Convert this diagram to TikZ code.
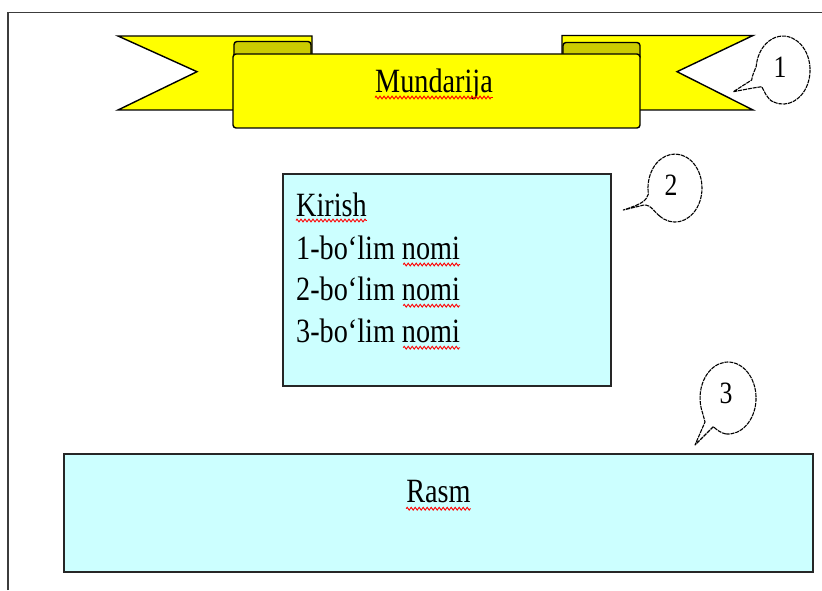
\documentclass[tikz,border=0pt]{standalone}
\usepackage{fontspec}
\setmainfont{Liberation Serif}
\newfontfamily\txtfont{Liberation Serif}[FakeStretch=0.83]
\usetikzlibrary{decorations.pathmorphing}
\definecolor{ribbonyellow}{RGB}{255,255,0}
\definecolor{folddark}{RGB}{204,204,0}
\definecolor{boxcyan}{RGB}{204,255,255}
\definecolor{framegray}{RGB}{60,60,60}
\begin{document}
\begin{tikzpicture}[x=1pt,y=1pt,
  ribbonpart/.style={draw=black, line width=1.4pt, fill=ribbonyellow, line join=miter},
  foldpart/.style={draw=black, line width=1.4pt, fill=folddark, rounded corners=3pt},
  infobox/.style={draw=black!85, line width=1.8pt, fill=boxcyan, inner sep=0pt},
  bubble/.style={draw=black, line width=1.1pt, dash pattern=on 4pt off 0.9pt, line join=round},
  bigtext/.style={font=\txtfont\fontsize{34}{40}\selectfont, inner sep=0pt},
  numtext/.style={font=\txtfont\fontsize{31}{36}\selectfont, inner sep=0pt},
  wavy/.style={draw=red, line width=0.9pt, decorate, decoration={zigzag, segment length=4pt, amplitude=1.4pt}},
]
\useasboundingbox (0,0) rectangle (822,590);
\fill[white] (0,0) rectangle (822,590);
% page frame
\draw[framegray, line width=1.5pt] (8,0) -- (8,577.5) -- (822,577.5);
% ribbon tails
\draw[ribbonpart] (118,554) -- (312,554) -- (312,480) -- (118,480) -- (197,518.3) -- cycle;
\draw[ribbonpart] (562,554.5) -- (753,554.5) -- (677,518.3) -- (753,480) -- (562,480) -- cycle;
% folds
\draw[foldpart] (234,530) rectangle (311,548.5);
\draw[foldpart] (563,530) rectangle (640,547.5);
% band
\draw[ribbonpart, rounded corners=3pt] (233,462) rectangle (640,536);
\node[bigtext, anchor=base] (title) at (434,497) {Mundarija};
\draw[wavy] ([yshift=-4.5pt]title.base west) -- ([yshift=-4.5pt]title.base east);
% box 2
\node[infobox, minimum width=328pt, minimum height=212pt, anchor=south west] (box2) at (282,203) {};
\node[bigtext, anchor=base west] (k0) at (296,373) {Kirish};
\node[bigtext, anchor=base west] (k1) at (296,330.5) {1-bo‘lim nomi};
\node[bigtext, anchor=base west] (k2) at (296,289.3) {2-bo‘lim nomi};
\node[bigtext, anchor=base west] (k3) at (296,247.3) {3-bo‘lim nomi};
\draw[wavy] ([yshift=-3.5pt]k0.base west) -- ([yshift=-3.5pt]k0.base east);
\draw[wavy] ([xshift=-57pt,yshift=-5pt]k1.base east) -- ([yshift=-5pt]k1.base east);
\draw[wavy] ([xshift=-57pt,yshift=-5pt]k2.base east) -- ([yshift=-5pt]k2.base east);
\draw[wavy] ([xshift=-57pt,yshift=-5pt]k3.base east) -- ([yshift=-5pt]k3.base east);
% box 3
\node[infobox, minimum width=749pt, minimum height=118pt, anchor=south west] (box3) at (63,17) {};
\node[bigtext, anchor=base] (rasm) at (438.5,87.3) {Rasm};
\draw[wavy] ([yshift=-6pt]rasm.base west) -- ([yshift=-6pt]rasm.base east);
% callouts
\draw[bubble] (773.8,488.0) arc[start angle=250, end angle=534, x radius=27, y radius=34]
  .. controls (754,518) and (752,514) .. (751.7,510) -- (733.3,498.3) -- (753,502) -- (761.7,503.3)
  .. controls (764,500) and (767,490) .. (773.8,488.0);
\node[numtext] (n1) at (780,523) {1};
\draw[bubble] (659.5,374.1) arc[start angle=235, end angle=550, x radius=27, y radius=34]
  .. controls (646,390) and (645,387) .. (623.3,380) -- (640,384)
  .. controls (650,388) and (653,379) .. (659.5,374.1);
\node[numtext] (n2) at (671,405) {2};
\draw[bubble] (725.6,156.1) arc[start angle=265, end angle=565, x radius=28, y radius=36]
  -- (705,168) -- (695,145) -- (713.3,163.3)
  .. controls (717,160) and (721,157) .. (725.6,156.1);
\node[numtext] (n3) at (726,197) {3};
\end{tikzpicture}
\end{document}
